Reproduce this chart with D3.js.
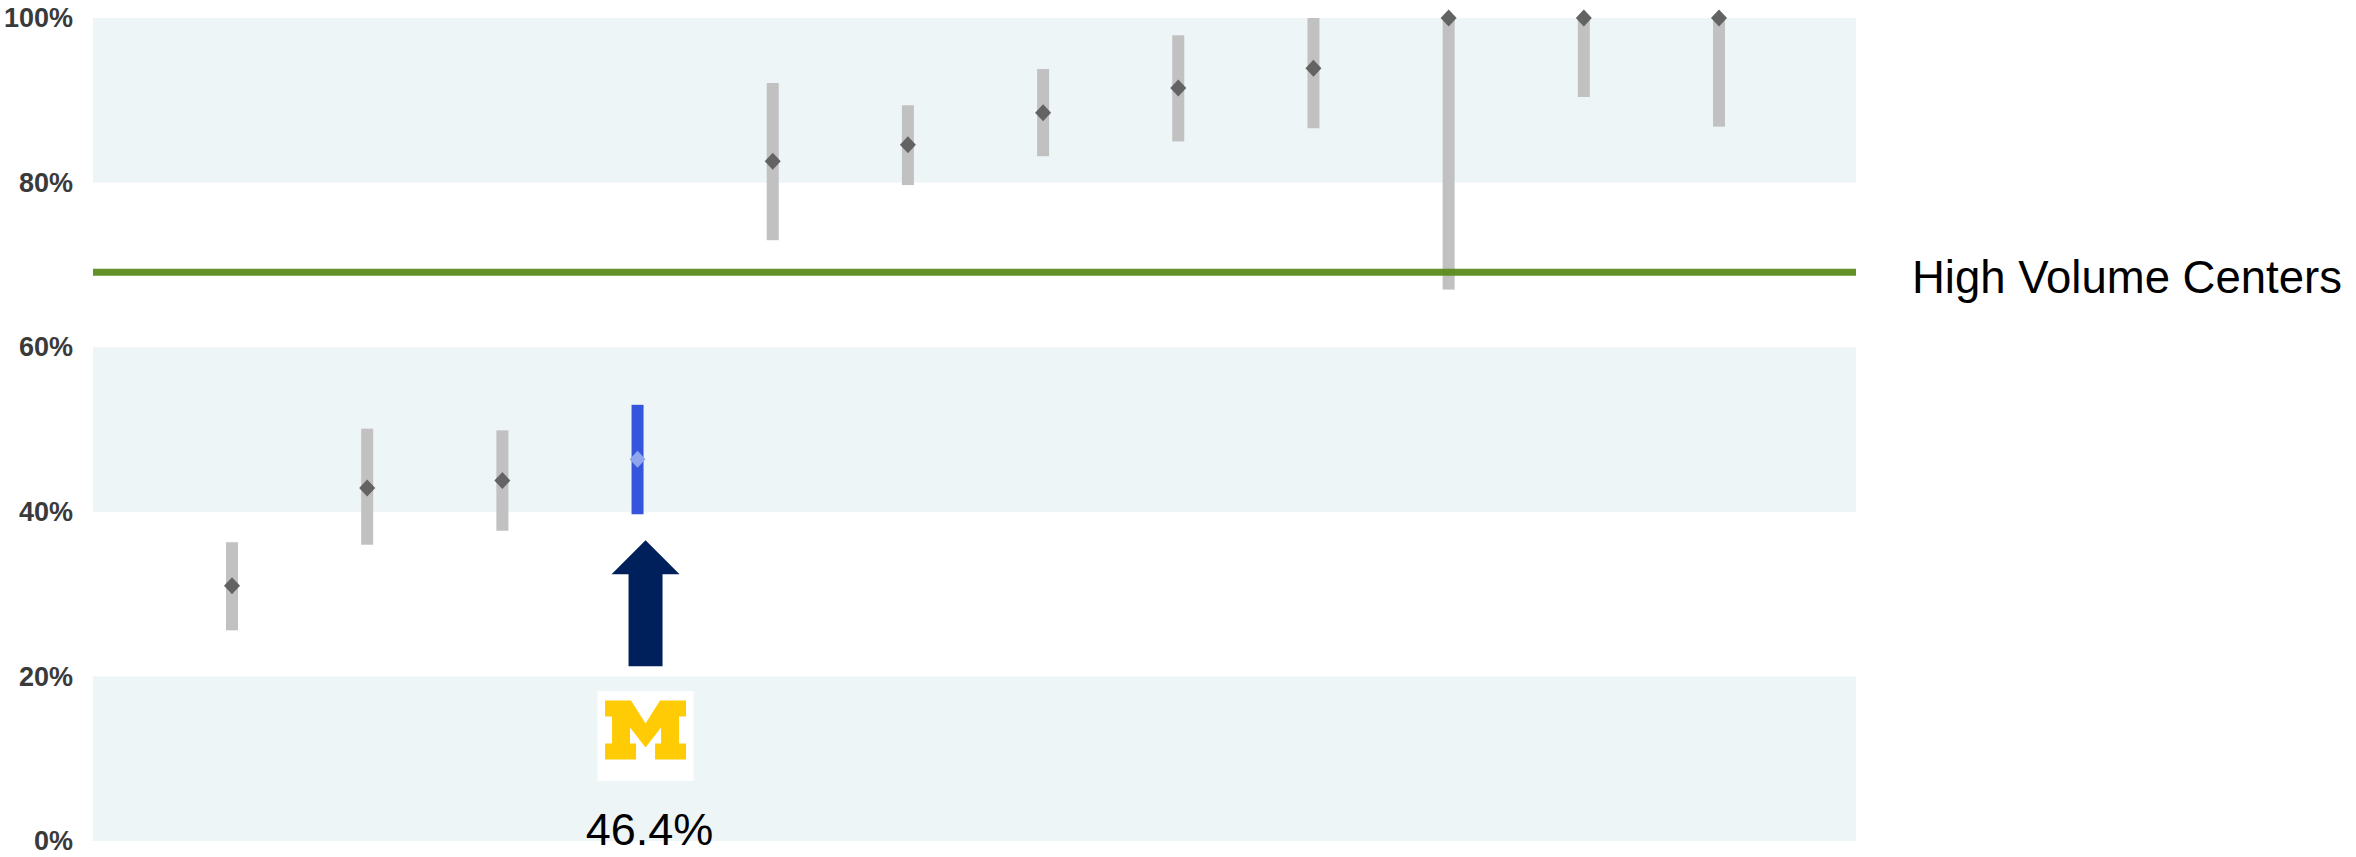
<!DOCTYPE html>
<html>
<head>
<meta charset="utf-8">
<script src="https://cdn.jsdelivr.net/npm/d3@7"></script>
<style>
  body { margin: 0; background: #fff; }
</style>
</head>
<body>
<div id="chart"></div>
<script>
// data (percent)
var centers = ["C1", "C2", "C3", "Michigan", "C5", "C6", "C7", "C8", "C9", "C10", "C11", "C12"];
var rates = [31.0, 42.9, 43.8, 46.4, 82.6, 84.6, 88.5, 91.5, 93.9, 100, 100, 100];
var lower = [25.6, 36.0, 37.7, 39.7, 73.0, 79.7, 83.2, 85.0, 86.6, 67.0, 90.4, 86.8];
var upper = [36.3, 50.1, 49.9, 53.0, 92.1, 89.4, 93.8, 97.9, 100, 100, 100, 100];
var yTicks = [0, 20, 40, 60, 80, 100];
var shadedBands = [[0, 20], [40, 60], [80, 100]];
var highVolume = 69.1;
var highVolumeLabel = "High Volume Centers";
var highlight = "Michigan";

var width = 2356, height = 857;
var plotLeft = 93, plotRight = 1856;

var svg = d3.select("#chart")
  .append("svg")
    .attr("width", width)
    .attr("height", height);

// scales
var x = d3.scalePoint()
  .domain(centers)
  .range([232, 1719]);

var y = d3.scaleLinear()
  .domain([0, 100])
  .range([841, 18]);

// background bands
svg.append("g")
  .selectAll("rect")
  .data(shadedBands)
  .enter()
  .append("rect")
    .attr("x", plotLeft)
    .attr("y", function(d) { return y(d[1]); })
    .attr("width", plotRight - plotLeft)
    .attr("height", function(d) { return y(d[0]) - y(d[1]); })
    .style("fill", "#eef5f7");

// y axis labels
var yAxis = svg.append("g")
  .attr("transform", "translate(" + 80 + ",0)")
  .call(d3.axisLeft(y).tickValues(yTicks).tickSize(0).tickPadding(7)
    .tickFormat(function(d) { return d + "%"; }));

yAxis.select(".domain").remove();
yAxis.selectAll("text")
  .style("font-family", "'Liberation Sans Narrow', 'Liberation Sans', sans-serif")
  .style("font-weight", "bold")
  .style("font-size", "27px")
  .style("fill", "#3a3a3a");

var data = centers.map(function(c, i) {
  return { name: c, rate: rates[i], lo: lower[i], hi: upper[i] };
});

// range bars
svg.append("g")
  .selectAll("rect")
  .data(data)
  .enter()
  .append("rect")
    .attr("x", function(d) { return x(d.name) - 6; })
    .attr("y", function(d) { return y(d.hi); })
    .attr("width", 12)
    .attr("height", function(d) { return y(d.lo) - y(d.hi); })
    .style("fill", function(d) { return d.name === highlight ? "#3556dc" : "#c1c1c1"; });

// diamonds
svg.append("g")
  .selectAll("path")
  .data(data)
  .enter()
  .append("path")
    .attr("d", "M0,-8.5L8,0L0,8.5L-8,0Z")
    .attr("transform", function(d) { return "translate(" + x(d.name) + "," + y(d.rate) + ")"; })
    .style("fill", function(d) { return d.name === highlight ? "#8fa6ee" : "#636363"; });

// high volume reference line
svg.append("line")
  .attr("x1", plotLeft)
  .attr("x2", plotRight)
  .attr("y1", y(highVolume))
  .attr("y2", y(highVolume))
  .style("stroke", "#5b8b1c")
  .style("stroke-width", 7)
  .style("opacity", 0.95);

svg.append("text")
  .attr("x", 1912)
  .attr("y", y(highVolume) + 21)
  .text(highVolumeLabel)
  .style("font-family", "'Liberation Sans', Arial, sans-serif")
  .style("font-size", "45.5px")
  .style("fill", "#000");

// arrow pointing at Michigan
var mi = data[centers.indexOf(highlight)];
var ax = x(mi.name) + 8;
var tipY = y(mi.lo) + 26;
svg.append("path")
  .attr("d", "M" + ax + "," + tipY +
    "L" + (ax + 34) + "," + (tipY + 34) +
    "L" + (ax + 17) + "," + (tipY + 34) +
    "L" + (ax + 17) + "," + (tipY + 126) +
    "L" + (ax - 17) + "," + (tipY + 126) +
    "L" + (ax - 17) + "," + (tipY + 34) +
    "L" + (ax - 34) + "," + (tipY + 34) + "Z")
  .style("fill", "#00205b");

// block M logo
var logo = svg.append("g")
  .attr("transform", "translate(" + (ax - 48) + "," + 691 + ")");

logo.append("rect")
  .attr("width", 96)
  .attr("height", 90)
  .style("fill", "#fff");

var mPts = [[0,0],[26,0],[40.5,23],[55,0],[81,0],[81,16],[74,16],[74,43],[81,43],[81,59],
  [50,59],[50,43],[56,43],[56,27],[40.5,47],[25,27],[25,43],[31,43],[31,59],[0,59],
  [0,43],[7,43],[7,16],[0,16]];

logo.append("path")
  .attr("d", d3.line()(mPts) + "Z")
  .attr("transform", "translate(7.5,9.5)")
  .style("fill", "#ffcb05");

// value label
svg.append("text")
  .attr("x", ax + 4)
  .attr("y", 845)
  .attr("text-anchor", "middle")
  .text(d3.format(".1f")(mi.rate) + "%")
  .style("font-family", "'Liberation Sans', Arial, sans-serif")
  .style("font-size", "45px")
  .style("fill", "#000");
</script>
</body>
</html>
